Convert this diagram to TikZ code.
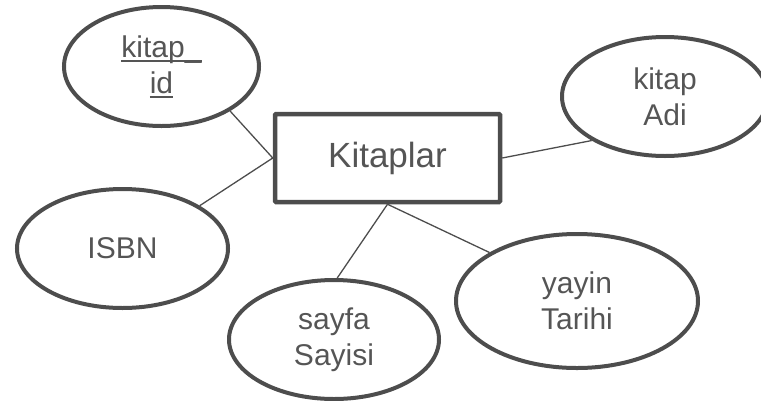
\documentclass[tikz,border=0pt]{standalone}
\usepackage{fontspec}
\setmainfont{Liberation Sans}
\usetikzlibrary{positioning, shapes.geometric}
\definecolor{ergray}{HTML}{4D4D4D}
\definecolor{ertext}{HTML}{555555}
\newcommand{\keyul}[1]{\setbox0\hbox{#1}\rlap{\rule[-4.5pt]{\wd0}{1.8pt}}\box0}

\begin{document}
\begin{tikzpicture}[x=1pt, y=-1pt]
		\tikzset{
			entity/.style={draw=ergray, line width=4.5pt, rounded corners=1pt, minimum width=225pt, minimum height=88pt, text=ertext, font=\fontsize{35}{42}\selectfont},
			attr/.style={draw=ergray, ellipse, line width=4pt, inner sep=0pt, align=center, text=ertext, font=\fontsize{30}{36}\selectfont},
			link/.style={draw=ergray, line width=1.3pt}
		}
		\useasboundingbox (0,0) rectangle (761,400);
		
		% Entity node
		\node[entity] (kitaplar) at (387.5,158) {Kitaplar};
		
		% Attribute nodes
		\node[attr, minimum width=195pt, minimum height=119pt] (kitapid) at (161.5,66.5) {\keyul{kitap\_}\\\keyul{id}};
		\node[attr, minimum width=206pt, minimum height=119pt] (kitapadi) at (665,96.5) {kitap\\Adi};
		\node[attr, minimum width=211pt, minimum height=119pt] (isbn) at (122.5,248.5) {ISBN};
		\node[attr, minimum width=210pt, minimum height=119pt] (sayfa) at (334,339.5) {sayfa\\Sayisi};
		\node[attr, minimum width=242pt, minimum height=134pt] (yayin) at (577,301) {yayin\\Tarihi};
		
		% Draw lines between nodes
		\draw[link] (kitapid.-33) -- (kitaplar.west);
		\draw[link] (isbn.29) -- (kitaplar.west);
		\draw[link] (kitaplar.east) -- (kitapadi.211);
		\draw[link] (kitaplar.south) -- (sayfa.87);
		\draw[link] (kitaplar.south) -- (yayin.151);
		
	\end{tikzpicture}
\end{document}
